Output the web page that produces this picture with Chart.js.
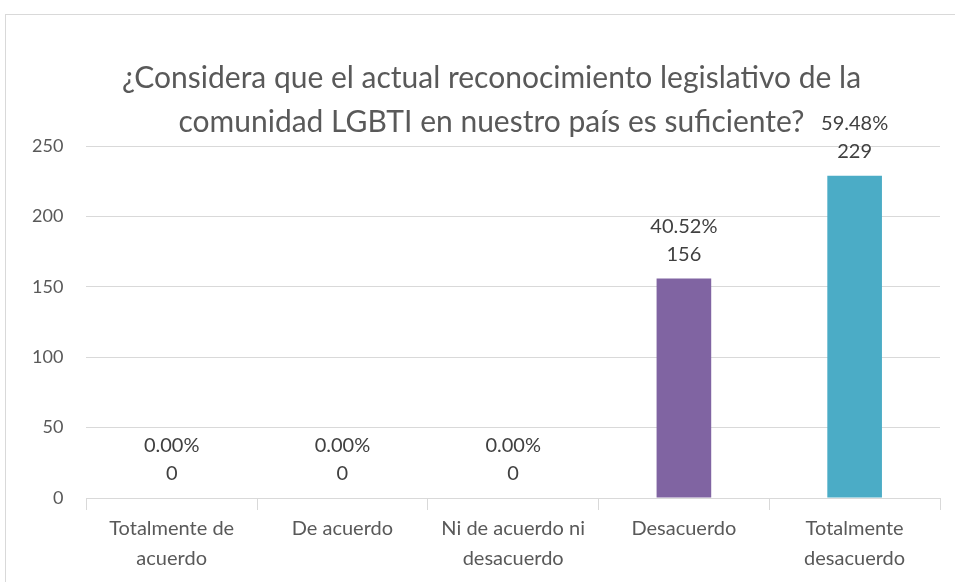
<!DOCTYPE html>
<html>
<head>
<meta charset="utf-8">
<script src="https://cdn.jsdelivr.net/npm/chart.js@4"></script>
<style>
  body { margin: 0; background: #fff; }
  #frame { position: absolute; left: 5px; top: 14px; width: 960px; height: 600px; border: 1px solid #d9d9d9; }
  #chart { position: absolute; left: 0; top: 0; }
</style>
</head>
<body>
<div id="frame"></div>
<canvas id="chart" width="955" height="582"></canvas>
<script>
let categories = [['Totalmente de', 'acuerdo'], 'De acuerdo', ['Ni de acuerdo ni', 'desacuerdo'], 'Desacuerdo', ['Totalmente', 'desacuerdo']];
let counts = [0, 0, 0, 156, 229];
let percents = ['0.00%', '0.00%', '0.00%', '40.52%', '59.48%'];
let barColors = ['#4F81BD', '#C0504D', '#9BBB59', '#8064A2', '#4BACC6'];
let titleLines = ['¿Considera que el actual reconocimiento legislativo de la', 'comunidad LGBTI en nuestro país es suficiente?'];

const fontFamily = 'Lato, "Open Sans", sans-serif';

// two-line labels above each bar
let barLabels = {
	id: 'barLabels',
	afterDatasetsDraw(chart) {
		const c = chart.ctx;
		const meta = chart.getDatasetMeta(0);
		c.save();
		c.fillStyle = '#404040';
		c.font = '20px ' + fontFamily;
		c.textAlign = 'center';
		c.textBaseline = 'middle';
		meta.data.forEach((bar, i) => {
			c.fillText(String(counts[i]), bar.x, bar.y - 24);
			c.fillText(percents[i], bar.x, bar.y - 52);
		});
		c.restore();
	}
};

// the original title sits a bit right of the canvas centre
let titleShift = {
	id: 'titleShift',
	afterLayout(chart) {
		if (chart.titleBlock) chart.titleBlock.left += 34;
	}
};

const ctx = document.getElementById('chart').getContext('2d');
const chart = new Chart(ctx, {
	type: 'bar',
	data: {
		labels: categories,
		datasets: [{
			data: counts,
			backgroundColor: barColors,
			categoryPercentage: 1,
			barPercentage: 0.32
		}]
	},
	options: {
		responsive: false,
		animation: false,
		layout: { padding: { left: 9, right: 15, bottom: 4 } },
		plugins: {
			legend: { display: false },
			tooltip: { enabled: false },
			title: {
				display: true,
				text: titleLines,
				color: '#595959',
				font: { family: fontFamily, size: 30, weight: 'normal', lineHeight: 1.47 },
				padding: { top: 56, bottom: 2 }
			}
		},
		scales: {
			y: {
				min: 0,
				max: 250,
				ticks: { stepSize: 50, color: '#595959', padding: 23, font: { family: fontFamily, size: 18 } },
				grid: { color: '#d9d9d9', drawTicks: false },
				border: { display: false }
			},
			x: {
				ticks: { color: '#595959', maxRotation: 0, autoSkip: false, padding: 4, font: { family: fontFamily, size: 20, lineHeight: 1.5 } },
				grid: { drawOnChartArea: false, drawTicks: true, tickLength: 12, color: '#d9d9d9', offset: true },
				border: { color: '#d9d9d9' }
			}
		}
	},
	plugins: [barLabels, titleShift]
});
</script>
</body>
</html>
